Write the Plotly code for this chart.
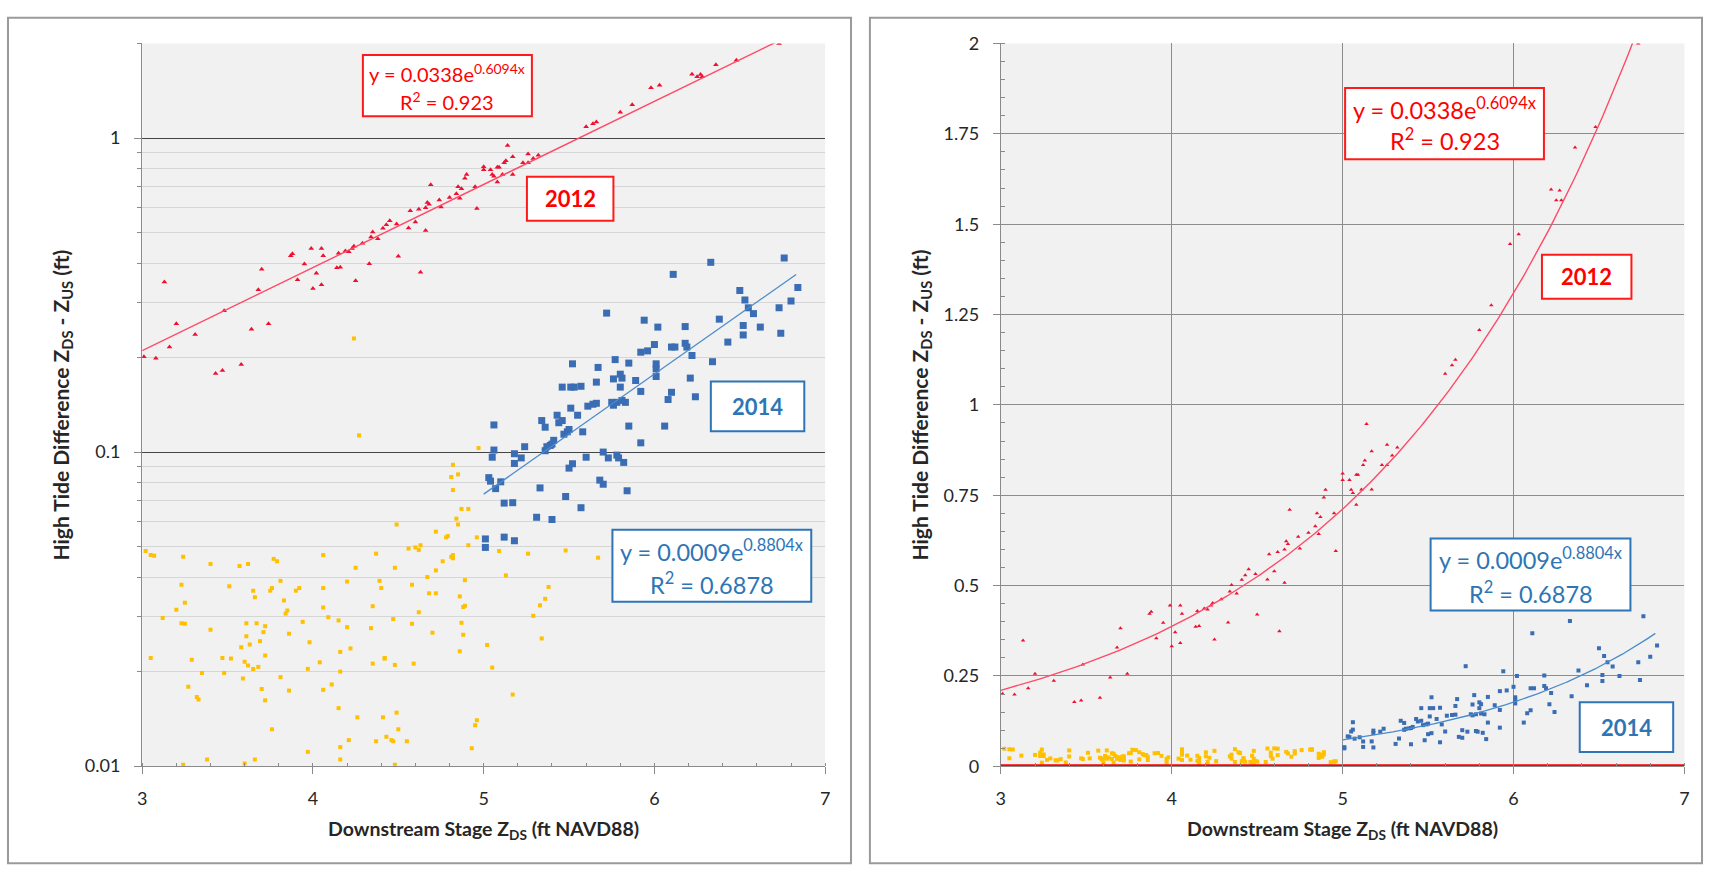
import numpy as np
import plotly.graph_objects as go

# ---------------- data ----------------
x_2012 = [3.01,3.08,3.13,3.16,3.20,3.31,3.43,3.47,3.48,3.58,3.64,3.68,3.70,3.74,3.87,3.88,3.91,3.95,3.99,4.00,
          4.02,4.05,4.05,4.06,4.14,4.15,4.16,4.19,4.21,4.23,4.24,4.25,4.29,4.33,4.34,4.35,4.38,4.41,4.43,4.45,
          4.49,4.50,4.56,4.57,4.60,4.62,4.63,4.66,4.66,4.67,4.68,4.69,4.74,4.75,4.80,4.84,4.85,4.86,4.87,4.89,
          4.90,4.95,4.96,5.00,5.00,5.04,5.05,5.06,5.08,5.08,5.09,5.11,5.12,5.13,5.14,5.17,5.17,5.23,5.26,5.26,
          5.29,5.32,5.60,5.64,5.66,5.80,5.87,5.98,6.03,6.22,6.25,6.27,6.28,6.36,6.48,6.73]
y_2012 = [0.201,0.199,0.348,0.216,0.256,0.237,0.178,0.182,0.282,0.190,0.246,0.329,0.382,0.256,0.422,0.428,0.354,0.397,0.445,0.332,
          0.371,0.445,0.341,0.422,0.386,0.430,0.388,0.437,0.434,0.445,0.452,0.351,0.462,0.398,0.484,0.502,0.478,0.516,0.529,0.545,
          0.532,0.420,0.517,0.587,0.540,0.593,0.374,0.600,0.508,0.623,0.615,0.710,0.635,0.603,0.646,0.664,0.700,0.643,0.690,0.744,
          0.765,0.700,0.596,0.810,0.792,0.792,0.765,0.756,0.807,0.724,0.807,0.766,0.834,0.846,0.947,0.872,0.766,0.834,0.834,0.890,
          0.860,0.882,1.086,1.110,1.125,1.207,1.276,1.445,1.472,1.596,1.566,1.593,1.566,1.712,1.769,2.000]

x_2014 = [6.33,6.76,6.11,6.50,6.53,6.84,6.80,6.55,6.58,6.73,6.38,6.52,6.52,6.62,6.74,5.72,5.94,6.02,6.18,6.43,
          6.34,5.92,5.96,6.00,6.10,6.12,6.18,6.19,6.22,5.52,5.67,5.77,5.85,6.01,6.01,6.01,5.46,5.51,5.53,5.57,
          5.66,5.76,5.80,5.81,5.89,5.80,5.92,6.21,6.10,6.08,6.24,5.06,5.34,5.43,5.36,5.44,5.46,5.51,5.55,5.61,
          5.64,5.66,5.75,5.76,5.78,5.83,5.81,5.58,5.49,5.50,5.47,5.41,5.39,5.36,5.40,5.85,5.92,6.06,5.06,5.05,
          5.18,5.22,5.24,5.18,5.37,5.60,5.70,5.73,5.78,5.82,5.79,5.50,5.52,5.03,5.04,5.07,5.10,5.33,5.68,5.70,
          5.84,5.48,5.12,5.17,5.57,5.31,5.40,5.01,5.01,5.12,5.18]
y_2014 = [0.402,0.415,0.368,0.327,0.305,0.334,0.303,0.288,0.276,0.288,0.265,0.253,0.236,0.250,0.239,0.277,0.263,0.250,0.251,0.224,
          0.194,0.208,0.210,0.220,0.216,0.216,0.222,0.216,0.203,0.191,0.186,0.197,0.192,0.191,0.184,0.174,0.161,0.161,0.161,0.162,
          0.167,0.171,0.177,0.172,0.169,0.161,0.156,0.172,0.155,0.147,0.150,0.122,0.126,0.131,0.120,0.124,0.126,0.138,0.131,0.140,
          0.142,0.143,0.144,0.141,0.144,0.144,0.146,0.116,0.116,0.118,0.114,0.109,0.105,0.101,0.106,0.121,0.107,0.121,0.1015,0.0963,
          0.0988,0.0958,0.104,0.092,0.104,0.0963,0.100,0.0958,0.0978,0.0927,0.0958,0.0889,0.0918,0.0829,0.0808,0.0765,0.0804,0.0769,0.0814,0.079,
          0.0753,0.0722,0.0688,0.069,0.0665,0.062,0.061,0.0529,0.0497,0.0536,0.0522]

x_other = [3.02,3.05,3.07,3.24,3.40,3.57,3.62,3.77,3.79,4.06,4.37,4.49,4.56,4.60,4.62,4.63,4.72,4.78,4.79,4.81,
           4.82,4.84,4.85,4.87,4.91,4.82,4.81,4.85,4.82,4.97,4.96,4.91,5.09,5.26,
           3.23,3.51,3.65,3.66,3.75,3.76,3.81,3.90,3.92,4.06,4.25,4.20,4.39,4.40,4.48,4.58,4.67,4.68,4.72,4.72,
           4.76,4.82,4.89,4.86,4.89,4.88,
           3.25,3.20,3.12,3.23,3.25,3.40,3.61,3.67,3.72,3.71,3.61,3.69,3.63,3.58,3.60,3.62,3.65,3.68,3.72,3.83,
           3.84,3.85,3.86,3.94,3.98,4.06,4.09,4.15,4.20,4.16,4.22,4.35,4.34,4.42,4.47,4.58,4.62,4.70,4.87,4.88,
           4.86,5.02,5.05,5.29,5.33,5.36,5.34,
           3.05,3.29,3.35,3.47,3.52,3.48,3.59,3.70,3.72,3.81,3.86,3.97,4.04,4.06,4.11,4.15,4.16,4.26,4.35,4.41,
           4.42,4.48,4.49,4.43,4.46,4.47,4.50,4.55,4.59,4.93,4.95,4.96,5.17,
           3.27,3.32,3.33,3.76,3.97,4.21,4.16,4.16,4.37,3.66,3.38,3.24,3.60,4.48,
           5.48,5.67,5.13,5.38,4.24,4.27]
y_other = [0.0484,0.047,0.0468,0.0464,0.044,0.0434,0.044,0.0457,0.0449,0.047,0.0475,0.0588,0.0493,0.0497,0.0488,0.0505,0.0558,0.0535,0.054,0.0464,
           0.047,0.0614,0.0588,0.0659,0.0659,0.0911,0.0833,0.0849,0.0757,0.103,0.0535,0.0505,0.0484,0.0475,
           0.0378,0.0374,0.0362,0.0345,0.0362,0.0369,0.0389,0.0362,0.0369,0.0369,0.0428,0.0387,0.0389,0.0369,0.0428,0.0378,0.040,0.0355,0.0355,0.042,
           0.0449,0.0459,0.0391,0.0347,0.0324,0.0321,
           0.0331,0.0315,0.0296,0.0285,0.0284,0.0272,0.0285,0.0285,0.0279,0.0267,0.0259,0.025,0.0244,0.0239,0.0215,0.0209,0.0204,0.0207,0.0225,0.0337,
           0.0306,0.0313,0.0264,0.0288,0.0248,0.032,0.0298,0.0291,0.0277,0.0231,0.0237,0.0323,0.0275,0.0221,0.0294,0.0284,0.0309,0.0266,0.0286,0.0262,
           0.0232,0.0243,0.0206,0.0301,0.0325,0.0341,0.0255,
           0.0221,0.0218,0.0198,0.0221,0.022,0.0198,0.019,0.0176,0.0162,0.0192,0.0174,0.0204,0.0214,0.0175,0.0182,0.0153,0.020,0.0143,0.0212,0.0143,
           0.022,0.021,0.0148,0.0124,0.0121,0.012,0.0131,0.012,0.0212,0.0114,0.0135,0.014,0.0169,
           0.0179,0.0166,0.0163,0.0131,0.0111,0.0121,0.0115,0.0105,0.012,0.0105,0.0105,0.0101,0.0102,0.0101,
           0.0486,0.0461,0.0405,0.0372,0.23,0.113]

# the linear panel only shows the low-stage points below 0.05 ft
linear_other_max_x = 5.0
linear_other_max_y = 0.05

# Excel exponential trendlines (as printed on the chart)
fit_2012 = dict(a=0.0338, b=0.6094, r2="0.923", x0=3.0, x1=6.73)
fit_2014 = dict(a=0.0009, b=0.8804, r2="0.6878", x0=5.0, x1=6.83)
zero_line_x = [3, 7]
zero_line_y = [0, 0]

x_ticks = [3, 4, 5, 6, 7]
log_ticks = [0.01, 0.1, 1]
log_ticktext = ["0.01", "0.1", "1"]
lin_ticks = [0, 0.25, 0.5, 0.75, 1, 1.25, 1.5, 1.75, 2]
lin_ticktext = ["0", "0.25", "0.5", "0.75", "1", "1.25", "1.5", "1.75", "2"]

# ---------------- style ----------------
W, H = 1709, 878
FONT = "Lato"
RED, RED_LINE = "#ee1030", "#ff4a66"
BLUE, BLUE_LINE = "#3a6db3", "#4a8ccb"
YELLOW = "#ffc000"
BOXRED, BOXBLUE = "#ff1a1a", "#2e75b6"
TXT = "#262626"

def fx(p):
    return p / W

def fy(p):
    return 1 - p / H

def trend(f):
    xs = np.linspace(f["x0"], f["x1"], 200)
    return xs, f["a"] * np.exp(f["b"] * xs)

lin_other = [(x, y) for x, y in zip(x_other, y_other) if x < linear_other_max_x and y <= linear_other_max_y]
lin_other_x = [p[0] for p in lin_other]
lin_other_y = [p[1] for p in lin_other]

fig = go.Figure()

# left (log) panel
fig.add_trace(go.Scatter(x=x_other, y=y_other, mode="markers", xaxis="x", yaxis="y",
                         marker=dict(symbol="square", size=4, color=YELLOW), showlegend=False))
fig.add_trace(go.Scatter(x=x_2014, y=y_2014, mode="markers", xaxis="x", yaxis="y",
                         marker=dict(symbol="square", size=7, color=BLUE), showlegend=False))
fig.add_trace(go.Scatter(x=x_2012, y=y_2012, mode="markers", xaxis="x", yaxis="y",
                         marker=dict(symbol="triangle-up", size=5, color=RED), showlegend=False))
tx, ty = trend(fit_2012)
fig.add_trace(go.Scatter(x=tx, y=ty, mode="lines", xaxis="x", yaxis="y",
                         line=dict(color=RED_LINE, width=1.4), showlegend=False))
tx, ty = trend(fit_2014)
fig.add_trace(go.Scatter(x=tx, y=ty, mode="lines", xaxis="x", yaxis="y",
                         line=dict(color=BLUE_LINE, width=1.3), showlegend=False))

# right (linear) panel
fig.add_trace(go.Scatter(x=lin_other_x, y=lin_other_y, mode="markers", xaxis="x2", yaxis="y2",
                         marker=dict(symbol="square", size=4, color=YELLOW), showlegend=False))
fig.add_trace(go.Scatter(x=x_2014, y=y_2014, mode="markers", xaxis="x2", yaxis="y2",
                         marker=dict(symbol="square", size=4, color=BLUE), showlegend=False))
fig.add_trace(go.Scatter(x=x_2012, y=y_2012, mode="markers", xaxis="x2", yaxis="y2",
                         marker=dict(symbol="triangle-up", size=4, color=RED), showlegend=False))
tx, ty = trend(fit_2012)
fig.add_trace(go.Scatter(x=tx, y=ty, mode="lines", xaxis="x2", yaxis="y2",
                         line=dict(color=RED_LINE, width=1.4), showlegend=False))
tx, ty = trend(fit_2014)
fig.add_trace(go.Scatter(x=tx, y=ty, mode="lines", xaxis="x2", yaxis="y2",
                         line=dict(color=BLUE_LINE, width=1.3), showlegend=False))
fig.add_trace(go.Scatter(x=zero_line_x, y=zero_line_y, mode="lines", xaxis="x2", yaxis="y2",
                         cliponaxis=False, line=dict(color="#ff0000", width=4), showlegend=False))

tickfont = dict(family=FONT, size=18, color=TXT)
axis_line = "#8a8a8a"

fig.update_layout(
    width=W, height=H, autosize=False,
    margin=dict(l=0, r=0, t=0, b=0),
    paper_bgcolor="white", plot_bgcolor="#f1f1f1",
    font=dict(family=FONT, color=TXT),
    xaxis=dict(domain=[fx(138), fx(825)], range=[3, 7], tickvals=x_ticks, showgrid=False, zeroline=False,
               showline=True, linecolor=axis_line, linewidth=1.3, ticks="outside", ticklen=7,
               tickcolor=axis_line, tickfont=tickfont, ticklabelstandoff=9,
               minor=dict(dtick=0.2, ticks="inside", ticklen=3, tickcolor=axis_line)),
    yaxis=dict(domain=[fy(773.5), fy(32.3)], type="log", range=[-2, np.log10(2)],
               tickvals=log_ticks, ticktext=log_ticktext, showgrid=True, gridcolor="#454545", gridwidth=1.3,
               zeroline=False, showline=True, linecolor=axis_line, linewidth=1.3,
               ticks="outside", ticklen=7, tickcolor=axis_line, tickfont=tickfont, ticklabelstandoff=10,
               minor=dict(tickvals=[k * 10.0 ** e for e in (-2, -1) for k in range(2, 10)] + [2],
                          showgrid=True, gridcolor="#d6d6d6", gridwidth=1, ticks="outside",
                          ticklen=4, tickcolor=axis_line)),
    xaxis2=dict(domain=[fx(1001.7), fx(1689.3)], range=[3, 7], tickvals=x_ticks, showgrid=True,
                gridcolor="#8c8c8c", gridwidth=1.2, zeroline=False, showline=True, linecolor=axis_line,
                linewidth=1.3, ticks="outside", ticklen=7, tickcolor=axis_line, tickfont=tickfont,
                ticklabelstandoff=9, anchor="y2",
                minor=dict(dtick=0.2, ticks="inside", ticklen=3, tickcolor=axis_line)),
    yaxis2=dict(domain=[fy(773.7), fy(32.3)], range=[0, 2], tickvals=lin_ticks, ticktext=lin_ticktext,
                showgrid=True, gridcolor="#8c8c8c", gridwidth=1.2, zeroline=False, showline=True,
                linecolor=axis_line, linewidth=1.3, ticks="outside", ticklen=7, tickcolor=axis_line,
                tickfont=tickfont, ticklabelstandoff=10, anchor="x2",
                minor=dict(dtick=0.05, ticks="inside", ticklen=4, tickcolor=axis_line)),
)

shapes = []
annotations = []

# panel frames
for x0, x1 in ((3, 851), (870, 1707)):
    shapes.append(dict(type="rect", xref="paper", yref="paper", x0=fx(x0), x1=fx(x1), y0=fy(873), y1=fy(6),
                       line=dict(color="#9a9a9a", width=2), fillcolor="rgba(0,0,0,0)", layer="below"))

def box(x0, x1, y0, y1, color):
    shapes.append(dict(type="rect", xref="paper", yref="paper", x0=fx(x0), x1=fx(x1), y0=fy(y1), y1=fy(y0),
                       line=dict(color=color, width=2), fillcolor="white", layer="above"))

def text(x, y, s, size, color, bold=False, angle=0):
    annotations.append(dict(xref="paper", yref="paper", x=fx(x), y=fy(y), text=(f"<b>{s}</b>" if bold else s),
                            showarrow=False, xanchor="center", yanchor="middle", textangle=angle,
                            font=dict(family=FONT, size=size, color=color)))

def eq_lines(f):
    return (f"y = {f['a']:.4f}e<sup>{f['b']:.4f}x</sup>", f"R<sup>2</sup> = {f['r2']}")

# left panel labels
l1, l2 = eq_lines(fit_2012)
box(360, 530, 44, 107, BOXRED)
text(445, 63, l1, 20, "#ff0000")
text(445, 91, l2, 20, "#ff0000")
box(525, 612, 169, 214, BOXRED)
text(568.5, 191.5, "2012", 22, "#ff0000", bold=True)
box(710, 804, 379, 430, BOXBLUE)
text(757, 404.5, "2014", 22, BOXBLUE, bold=True)
l1, l2 = eq_lines(fit_2014)
box(611, 811, 531, 605, BOXBLUE)
text(711, 552, l1, 23.5, BOXBLUE)
text(711, 586, l2, 23.5, BOXBLUE)

# right panel labels
l1, l2 = eq_lines(fit_2012)
box(1348, 1548, 78, 151, BOXRED)
text(1448, 99, l1, 23.5, "#ff0000")
text(1448, 131, l2, 23.5, "#ff0000")
box(1546, 1636, 249, 294, BOXRED)
text(1591, 271.5, "2012", 22, "#ff0000", bold=True)
l1, l2 = eq_lines(fit_2014)
box(1434, 1635, 540, 614, BOXBLUE)
text(1534.5, 561, l1, 23.5, BOXBLUE)
text(1534.5, 595, l2, 23.5, BOXBLUE)
box(1584, 1678, 708, 759, BOXBLUE)
text(1631, 733.5, "2014", 22, BOXBLUE, bold=True)

# axis titles
ytitle = "High Tide Difference Z<sub>DS</sub> - Z<sub>US</sub> (ft)"
xtitle = "Downstream Stage Z<sub>DS</sub> (ft NAVD88)"
text(57, 403, ytitle, 21, TXT, bold=True, angle=-90)
text(921, 403, ytitle, 21, TXT, bold=True, angle=-90)
text(481, 839, xtitle, 19.5, TXT, bold=True)
text(1345.5, 839, xtitle, 19.5, TXT, bold=True)

fig.update_layout(shapes=shapes, annotations=annotations)

fig.write_html("out.html", config={"displayModeBar": False},
               post_script="document.body.style.margin='0';")
